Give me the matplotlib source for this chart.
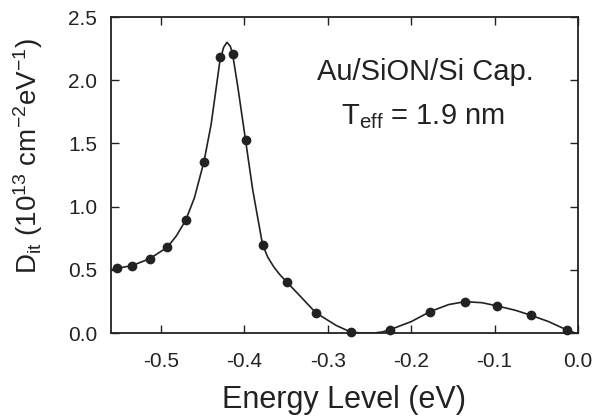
import numpy as np
import matplotlib.pyplot as plt

plt.rcParams['font.family'] = ['Liberation Sans', 'DejaVu Sans']
plt.rcParams['mathtext.fontset'] = 'custom'
plt.rcParams['mathtext.rm'] = 'Liberation Sans'
plt.rcParams['mathtext.it'] = 'Liberation Sans:italic'
plt.rcParams['mathtext.bf'] = 'Liberation Sans:bold'

# measured points
energy = [-0.5525, -0.5345, -0.5137, -0.4926, -0.4705, -0.4486, -0.4295, -0.4143,
          -0.3987, -0.3783, -0.3489, -0.3145, -0.2726, -0.2255, -0.1771, -0.1357,
          -0.0966, -0.0562, -0.0131]
dit = [0.512, 0.532, 0.588, 0.678, 0.892, 1.355, 2.18, 2.207,
       1.527, 0.696, 0.401, 0.161, 0.008, 0.026, 0.17, 0.248,
       0.214, 0.14, 0.024]

# fitted curve
fit_energy = [-0.56, -0.5525, -0.5345, -0.5137, -0.4926, -0.4815, -0.4705, -0.46,
              -0.4486, -0.44, -0.4295, -0.425, -0.421, -0.417, -0.4143, -0.408,
              -0.3987, -0.39, -0.3783, -0.372, -0.365, -0.358, -0.3489, -0.33,
              -0.3145, -0.29, -0.2726, -0.26, -0.245, -0.235, -0.2255, -0.2,
              -0.1771, -0.155, -0.1357, -0.115, -0.0966, -0.075, -0.0562, -0.035,
              -0.0131, -0.003]
fit_dit = [0.50, 0.512, 0.534, 0.588, 0.678, 0.77, 0.892, 1.07,
           1.355, 1.65, 2.15, 2.26, 2.30, 2.27, 2.21, 1.95,
           1.527, 1.13, 0.70, 0.60, 0.525, 0.465, 0.401, 0.27,
           0.161, 0.06, 0.008, 0.0, 0.0, 0.008, 0.026, 0.09,
           0.17, 0.225, 0.248, 0.24, 0.214, 0.18, 0.14, 0.09,
           0.024, 0.0]

xticks = [-0.5, -0.4, -0.3, -0.2, -0.1, 0.0]
yticks = [0.0, 0.5, 1.0, 1.5, 2.0, 2.5]

ink = '#222222'
fig = plt.figure(figsize=(6.07, 4.17), dpi=100)
ax = fig.add_axes([0.183, 0.2014, 0.769, 0.7577])

ax.plot(fit_energy, fit_dit, color=ink, lw=1.2, solid_joinstyle='round')
ax.plot(energy, dit, 'o', color=ink, ms=6, clip_on=False)

ax.set_xlim(-0.56, 0.0)
ax.set_ylim(0, 2.5)
ax.set_xticks(xticks)
ax.set_xticklabels(['%.1f' % t for t in xticks])
ax.set_yticks(yticks)
ax.set_yticklabels(['%.1f' % t for t in yticks])
ax.tick_params(direction='in', top=True, right=True, length=6, width=1,
               labelsize=15, colors=ink)
ax.tick_params(axis='x', pad=14)
ax.tick_params(axis='y', pad=10)
for s in ax.spines.values():
    s.set_linewidth(1.3)
    s.set_color(ink)

ax.set_xlabel('Energy Level (eV)', fontsize=22, color=ink, labelpad=10)
ax.set_ylabel(r'D$_{\mathrm{it}}$ (10$^{13}$ cm$^{-2}$eV$^{-1}$)', fontsize=20,
              color=ink)
ax.yaxis.set_label_coords(-0.141, 0.56)

ax.text(0.674, 0.80, 'Au/SiON/Si Cap.', transform=ax.transAxes, ha='center',
        va='baseline', fontsize=21, color=ink)
ax.text(0.668, 0.66, r'T$_{\mathrm{eff}}$ = 1.9 nm', transform=ax.transAxes,
        ha='center', va='baseline', fontsize=21, color=ink)

fig.savefig('out.png', dpi=100)
